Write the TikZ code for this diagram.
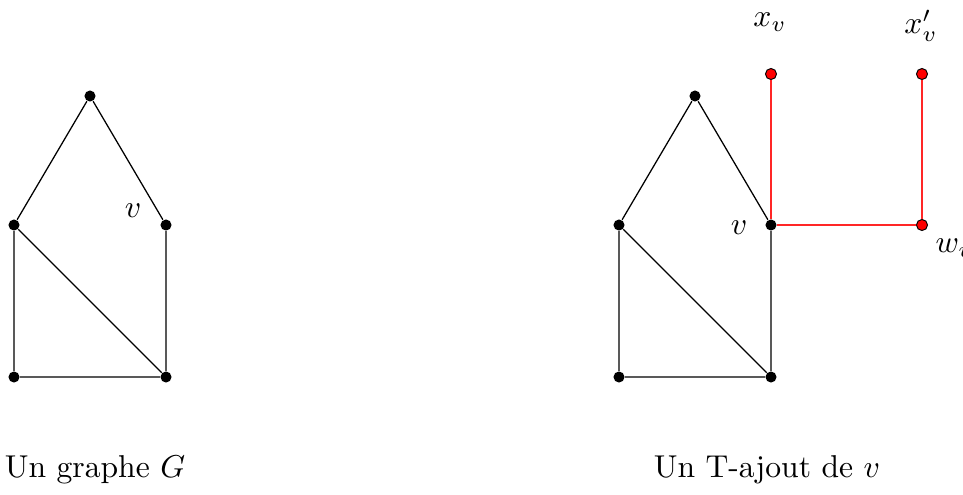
\documentclass[tikz,border=0pt]{standalone}
\begin{document}
\begin{tikzpicture}[x=0.3163pt,y=-0.3163pt,
  vtx/.style={circle,fill=black,inner sep=0pt,minimum size=3.5pt},
  rvtx/.style={circle,fill=red,draw=black,line width=0.3pt,inner sep=0pt,minimum size=3.5pt},
  edge/.style={draw=black,line width=0.4pt},
  redge/.style={draw=red!85,line width=0.35pt},
  lbl/.style={inner sep=0pt}]
\useasboundingbox (0,0) rectangle (963,494);
% left graph
\node[vtx] (a1) at (90,96) {};
\node[vtx] (b1) at (14,225) {};
\node[vtx] (c1) at (166,225) {};
\node[vtx] (d1) at (14,377) {};
\node[vtx] (e1) at (166,377) {};
\draw[edge] (b1) -- (a1) -- (c1) -- (e1) -- (d1) -- (b1) -- (e1);
\node[lbl] (v1) at (133,211) {$v$};
\node[lbl] (cap1) at (95,470) {Un graphe $G$};
% right graph
\node[vtx] (a2) at (695,96) {};
\node[vtx] (b2) at (619,225) {};
\node[vtx] (c2) at (771,225) {};
\node[vtx] (d2) at (619,377) {};
\node[vtx] (e2) at (771,377) {};
\node[rvtx] (xv) at (771,74) {};
\node[rvtx] (xpv) at (922,74) {};
\node[rvtx] (wv) at (922,225) {};
\draw[redge] (c2) -- (xv);
\draw[redge] (c2) -- (wv) -- (xpv);
\draw[edge] (b2) -- (a2) -- (c2) -- (e2) -- (d2) -- (b2) -- (e2);
\node[lbl] (v2) at (739,228) {$v$};
\node[lbl] (lx) at (770,22) {$x_v$};
\node[lbl] (lxp) at (921,26) {$x'_v$};
\node[lbl,anchor=west] (lw) at (935,248) {$w_v$};
\node[lbl] (cap2) at (767,470) {Un T-ajout de $v$};
\end{tikzpicture}
\end{document}
